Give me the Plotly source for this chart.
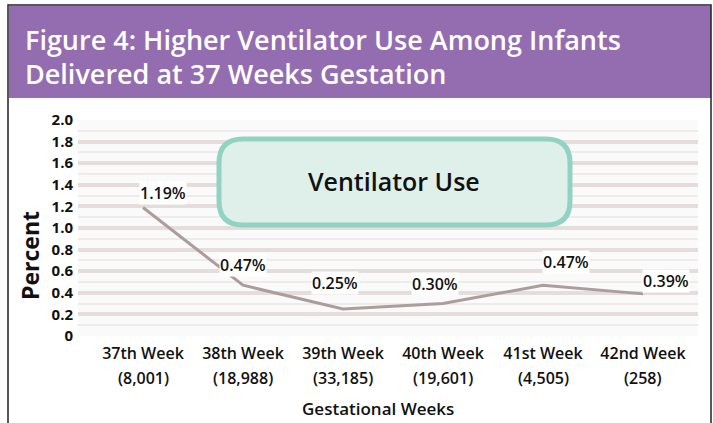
import plotly.graph_objects as go

weeks = ["37th Week", "38th Week", "39th Week", "40th Week", "41st Week", "42nd Week"]
counts = ["(8,001)", "(18,988)", "(33,185)", "(19,601)", "(4,505)", "(258)"]
ventilator_pct = [1.19, 0.47, 0.25, 0.30, 0.47, 0.39]
label_text = ["1.19%", "0.47%", "0.25%", "0.30%", "0.47%", "0.39%"]
y_ticks = [0, 0.2, 0.4, 0.6, 0.8, 1.0, 1.2, 1.4, 1.6, 1.8, 2.0]
y_tick_text = ["0", "0.2", "0.4", "0.6", "0.8", "1.0", "1.2", "1.4", "1.6", "1.8", "2.0"]

FONT = "Open Sans"
W, H = 713, 423
L, R, T, B = 78, 15, 120, 87
pw, ph = W - L - R, H - T - B


def px(x):
    return (x - L) / pw


def py(y):
    return (H - B - y) / ph


fig = go.Figure()
fig.add_trace(go.Scatter(
    x=list(range(len(weeks))), y=ventilator_pct, mode="lines",
    line=dict(color="#ab9d9c", width=3), hoverinfo="skip", showlegend=False, cliponaxis=False))

shapes = []
shapes.append(dict(type="rect", xref="paper", yref="paper", x0=px(9), x1=px(711), y0=py(98), y1=py(6),
                   fillcolor="#946db0", line=dict(width=0), layer="below"))
shapes.append(dict(type="path", xref="paper", yref="paper",
                   path=f"M {px(8)},{py(440)} L {px(8)},{py(5)} L {px(711)},{py(5)} L {px(711)},{py(440)}",
                   line=dict(color="#222", width=1.5)))
x0, x1, y0, y1, r = 219, 570, 139, 225, 24


def P(x, y):
    return f"{px(x)},{py(y)}"


path = (f"M {P(x0 + r, y0)} L {P(x1 - r, y0)} Q {P(x1, y0)} {P(x1, y0 + r)} "
        f"L {P(x1, y1 - r)} Q {P(x1, y1)} {P(x1 - r, y1)} L {P(x0 + r, y1)} "
        f"Q {P(x0, y1)} {P(x0, y1 - r)} L {P(x0, y0 + r)} Q {P(x0, y0)} {P(x0 + r, y0)} Z")
shapes.append(dict(type="path", xref="paper", yref="paper", path=path,
                   fillcolor="#dff0ea", line=dict(color="#92d2c3", width=5)))

annotations = []
annotations.append(dict(xref="paper", yref="paper", x=px(23), y=py(40), xanchor="left", yanchor="middle",
                        text="Figure 4: Higher Ventilator Use Among Infants", showarrow=False,
                        font=dict(family=FONT, size=27, color="white", weight=600)))
annotations.append(dict(xref="paper", yref="paper", x=px(23), y=py(73), xanchor="left", yanchor="middle",
                        text="Delivered at 37 Weeks Gestation", showarrow=False,
                        font=dict(family=FONT, size=27, color="white", weight=600)))
annotations.append(dict(xref="paper", yref="paper", x=px(394), y=py(181), xanchor="center", yanchor="middle",
                        text="Ventilator Use", showarrow=False,
                        font=dict(family=FONT, size=25, color="#111", weight=600)))
annotations.append(dict(xref="paper", yref="paper", x=px(30), y=py(256), xanchor="center", yanchor="middle",
                        text="<b>Percent</b>", textangle=-90, showarrow=False,
                        font=dict(family=FONT, size=23, color="#111")))
annotations.append(dict(xref="paper", yref="paper", x=px(378), y=py(408), xanchor="center", yanchor="middle",
                        text="Gestational Weeks", showarrow=False,
                        font=dict(family=FONT, size=17, color="#111", weight=600)))
for i, c in enumerate(counts):
    annotations.append(dict(x=i, xref="x", yref="paper", y=py(378), yanchor="middle", text=c,
                            showarrow=False, font=dict(family=FONT, size=16, color="#111", weight=600)))

shifts = [(20, 14), (0, 20), (-8, 26), (-8, 20), (23, 23), (23, 13)]
for i, (v, t) in enumerate(zip(ventilator_pct, label_text)):
    dx, dy = shifts[i]
    annotations.append(dict(x=i, y=v, xref="x", yref="y", text=t, showarrow=False,
                            xshift=dx, yshift=dy, bgcolor="white", borderpad=0,
                            font=dict(family=FONT, size=16, color="#111", weight=600)))

fig.update_layout(
    width=W, height=H, margin=dict(l=L, r=R, t=T, b=B),
    paper_bgcolor="white", plot_bgcolor="#fbfafa",
    shapes=shapes, annotations=annotations, showlegend=False,
    xaxis=dict(range=[-0.65, 5.55], tickmode="array", tickvals=list(range(len(weeks))),
               ticktext=weeks, ticklabelstandoff=6,
               showgrid=False, zeroline=False, showline=False, ticks="",
               tickfont=dict(family=FONT, size=16, color="#111", weight=600)),
    yaxis=dict(range=[0, 2.0], tickmode="array", tickvals=y_ticks, ticktext=y_tick_text,
               showgrid=True, gridcolor="#e4dddc", gridwidth=4, zeroline=False, showline=False, ticks="",
               ticklabelstandoff=4,
               minor=dict(dtick=0.1, showgrid=True, gridcolor="#efebea", gridwidth=2),
               tickfont=dict(family=FONT, size=15, color="#111", weight=700)),
)
fig.write_html("out.html", config={"displayModeBar": False})

with open("out.html", "r", encoding="utf-8") as f:
    html = f.read()
html = html.replace("<body>", '<body style="margin:0;padding:0;overflow:hidden">', 1)
html = html.replace("<head>", '<head><style>html,body{margin:0;padding:0;}</style>', 1)
with open("out.html", "w", encoding="utf-8") as f:
    f.write(html)
